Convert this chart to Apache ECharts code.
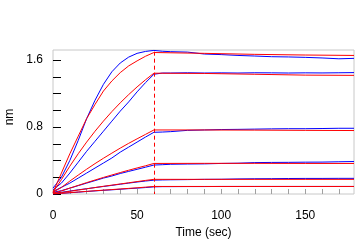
<!DOCTYPE html>
<html>
<head>
<meta charset="utf-8">
<script src="https://cdn.jsdelivr.net/npm/echarts@6/dist/echarts.min.js"></script>
<style>html,body{margin:0;padding:0;background:#fff}#c{width:364px;height:244px}</style>
</head>
<body>
<div id="c"></div>
<script>
// ---- data ----
const fitTime = [0,5,10,15,20,25,30,35,40,45,50,55,60,90,120,150,179];
const fit1 = [0.02,0.25,0.48,0.69,0.90,1.07,1.23,1.35,1.45,1.53,1.59,1.645,1.69,1.68,1.668,1.66,1.655];
const fit2 = [0.02,0.172,0.332,0.481,0.62,0.75,0.871,0.984,1.089,1.187,1.279,1.364,1.443,1.44,1.43,1.42,1.417];
const fit3 = [0.02,0.078,0.154,0.226,0.296,0.363,0.427,0.488,0.548,0.605,0.659,0.712,0.765,0.765,0.763,0.76,0.758];
const fit4 = [0.01,0.036,0.07,0.103,0.136,0.167,0.198,0.227,0.256,0.284,0.311,0.337,0.365,0.366,0.366,0.365,0.365];
const fit5 = [0.005,0.016,0.032,0.047,0.062,0.077,0.092,0.106,0.12,0.134,0.148,0.162,0.175,0.175,0.175,0.175,0.175];
const fit6 = [0.0,0.008,0.016,0.024,0.031,0.039,0.046,0.053,0.06,0.067,0.074,0.082,0.09,0.09,0.09,0.09,0.09];

const dataTime = [0,5,10,15,20,25,30,35,40,45,50,55,60,65,70,80,90,100,110,120,130,140,150,160,170,179];
const data1 = [0.07,0.2,0.4,0.64,0.9,1.12,1.31,1.46,1.565,1.635,1.68,1.703,1.715,1.705,1.70,1.695,1.672,1.665,1.655,1.648,1.64,1.637,1.632,1.625,1.615,1.62];
const data2 = [0.05,0.13,0.25,0.38,0.51,0.63,0.75,0.87,0.99,1.1,1.22,1.33,1.43,1.445,1.445,1.448,1.445,1.447,1.445,1.448,1.447,1.445,1.447,1.446,1.448,1.45];
const data3 = [0.03,0.08,0.13,0.19,0.25,0.31,0.37,0.43,0.5,0.56,0.62,0.68,0.737,0.74,0.745,0.76,0.765,0.77,0.772,0.775,0.778,0.78,0.78,0.782,0.785,0.785];
const data4 = [0.02,0.04,0.07,0.1,0.13,0.16,0.19,0.215,0.245,0.27,0.295,0.32,0.346,0.35,0.355,0.358,0.36,0.365,0.368,0.375,0.377,0.378,0.38,0.381,0.385,0.388];
const data5 = [0.01,0.02,0.035,0.05,0.063,0.077,0.09,0.103,0.117,0.13,0.143,0.155,0.165,0.168,0.17,0.172,0.175,0.176,0.18,0.182,0.183,0.185,0.186,0.186,0.187,0.187];
const data6 = [0.0,0.008,0.015,0.022,0.03,0.037,0.044,0.05,0.057,0.064,0.07,0.077,0.085,0.088,0.088,0.089,0.089,0.09,0.09,0.09,0.09,0.09,0.09,0.09,0.09,0.09];

const stepTime = 60;
const stepTop = 1.7;
const xTicks = [0,10,20,30,40,50,60,70,80,90,100,110,120,130,140,150,160,170];
const xLabels = [0,50,100,150];
const yTicks = [0,0.2,0.4,0.6,0.8,1.0,1.2,1.4,1.6];
const yLabels = [0,0.8,1.6];

// ---- chart ----
function pairs(t, v){ return t.map((x,i)=>[x, v[i]]); }
const blueSets = [data1,data2,data3,data4,data5,data6];
const redSets = [fit1,fit2,fit3,fit4,fit5,fit6];
const series = [];
blueSets.forEach(d => series.push({type:'line', data:pairs(dataTime,d), showSymbol:false, symbol:'none',
  lineStyle:{color:'#0000ff', width:1}, itemStyle:{color:'#0000ff'}, silent:true}));
redSets.forEach((d,i) => {
  const s = {type:'line', data:pairs(fitTime,d), showSymbol:false, symbol:'none',
    lineStyle:{color:'#ff0000', width:1}, itemStyle:{color:'#ff0000'}, silent:true};
  if(i===0){
    s.markLine = {silent:true, symbol:['none','none'], label:{show:false},
      itemStyle:{color:'#ff0000'},
      lineStyle:{color:'#ff0000', type:[4,3], width:1, opacity:1},
      emphasis:{disabled:true},
      data:[[{coord:[stepTime, stepTop], lineStyle:{color:'#ff0000'}},{coord:[stepTime, 0]}]]};
  }
  series.push(s);
});

const font = 'Liberation Sans, Arial, sans-serif';
const chart = echarts.init(document.getElementById('c'), null, {renderer:'canvas'});
chart.setOption({
  animation:false,
  backgroundColor:'#ffffff',
  grid:{left:53, right:10, top:50, bottom:50, show:true, borderColor:'#c8c8c8', borderWidth:1,
    backgroundColor:'transparent', containLabel:false, outerBoundsMode:'none'},
  xAxis:{type:'value', min:0, max:179, interval:10,
    name:'Time (sec)', nameLocation:'middle', nameGap:31,
    nameTextStyle:{color:'#000', fontSize:12, fontFamily:font},
    axisLine:{show:false}, splitLine:{show:false},
    axisTick:{show:true, inside:true, length:5, customValues:xTicks, lineStyle:{color:'#a0a0a0'}},
    axisLabel:{customValues:xLabels, color:'#000', fontSize:12, fontFamily:font, margin:16}},
  yAxis:{type:'value', min:0, max:1.72, interval:0.2,
    name:'nm', nameLocation:'middle', nameGap:37,
    nameTextStyle:{color:'#000', fontSize:12, fontFamily:font, padding:[0,0,0,10]},
    axisLine:{show:false}, splitLine:{show:false},
    axisTick:{show:true, inside:true, length:8, customValues:yTicks, lineStyle:{color:'#000'}},
    axisLabel:{customValues:yLabels, color:'#000', fontSize:12, fontFamily:font, margin:10,
      formatter:v=>String(v)}},
  series
});
</script>
</body>
</html>
